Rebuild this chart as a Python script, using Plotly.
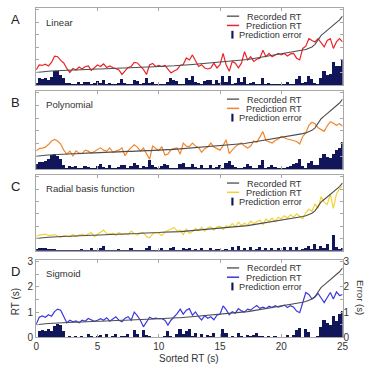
import plotly.graph_objects as go

# Sorted-trial axis (seconds), sampled every 0.25 s
sorted_rt = [i * 0.25 for i in range(101)]

recorded_rt = [0.50, 0.52, 0.53, 0.54, 0.55, 0.56, 0.57, 0.57, 0.58, 0.58, 0.59, 0.59,
               0.60, 0.60, 0.61, 0.61, 0.62, 0.62, 0.63, 0.63, 0.64, 0.64, 0.65, 0.65,
               0.66, 0.66, 0.67, 0.67, 0.68, 0.68, 0.69, 0.69, 0.70, 0.70, 0.71, 0.71,
               0.72, 0.72, 0.73, 0.73, 0.74, 0.75, 0.75, 0.76, 0.76, 0.77, 0.78, 0.78,
               0.79, 0.80, 0.81, 0.82, 0.83, 0.84, 0.84, 0.85, 0.86, 0.87, 0.88, 0.89,
               0.90, 0.91, 0.92, 0.93, 0.94, 0.95, 0.97, 0.98, 1.00, 1.02, 1.04, 1.06,
               1.08, 1.10, 1.12, 1.14, 1.16, 1.18, 1.20, 1.22, 1.24, 1.26, 1.28, 1.29,
               1.31, 1.33, 1.36, 1.39, 1.42, 1.47, 1.52, 1.62, 1.80, 1.98, 2.08, 2.18,
               2.28, 2.38, 2.48, 2.60, 2.75]

pred_linear = [0.60, 0.80, 0.78, 0.83, 0.76, 0.90, 1.15, 1.13, 0.98, 0.88, 0.66, 0.50,
               0.66, 0.60, 0.72, 0.64, 0.74, 0.76, 0.58, 0.70, 0.80, 0.74, 0.84, 0.70,
               0.76, 0.70, 0.66, 0.60, 0.42, 0.58, 0.70, 0.74, 0.90, 0.88, 0.74, 0.62,
               0.42, 0.80, 0.86, 0.74, 0.78, 0.74, 0.78, 0.62, 0.48, 0.56, 0.62, 0.78,
               0.82, 1.08, 1.00, 1.20, 0.94, 0.74, 0.81, 0.68, 0.64, 0.68, 0.87, 0.68,
               0.81, 1.26, 0.81, 0.55, 0.94, 0.87, 0.68, 0.87, 1.33, 1.00, 1.13, 0.94,
               1.03, 1.07, 1.39, 1.13, 1.26, 1.13, 1.20, 1.26, 1.20, 1.26, 1.16, 1.24,
               1.26, 1.07, 1.00, 1.46, 1.55, 1.85, 1.78, 1.72, 1.85, 1.68, 1.52, 1.78,
               1.85, 1.46, 1.72, 1.85, 1.72]
err_linear = [0.10, 0.28, 0.25, 0.29, 0.21, 0.34, 0.58, 0.56, 0.40, 0.30, 0.07, 0.09,
              0.06, 0.02, 0.11, 0.03, 0.12, 0.14, 0.05, 0.07, 0.16, 0.10, 0.19, 0.05,
              0.10, 0.04, 0.01, 0.07, 0.26, 0.10, 0.01, 0.05, 0.20, 0.18, 0.03, 0.09,
              0.30, 0.08, 0.13, 0.01, 0.04, 0.01, 0.03, 0.14, 0.28, 0.21, 0.16, 0.02,
              0.03, 0.28, 0.19, 0.38, 0.11, 0.10, 0.03, 0.17, 0.22, 0.19, 0.01, 0.21,
              0.09, 0.35, 0.11, 0.38, 0.01, 0.08, 0.29, 0.11, 0.33, 0.02, 0.09, 0.12,
              0.05, 0.03, 0.27, 0.01, 0.10, 0.05, 0.02, 0.04, 0.04, 0.01, 0.12, 0.05,
              0.05, 0.26, 0.36, 0.07, 0.13, 0.38, 0.26, 0.10, 0.05, 0.30, 0.56, 0.40,
              0.43, 0.92, 0.76, 0.75, 1.03]

pred_poly = [0.71, 0.80, 0.82, 0.86, 0.96, 1.10, 1.16, 1.10, 0.98, 0.74, 0.58, 0.70,
             0.51, 0.71, 0.62, 0.60, 0.74, 0.70, 0.62, 0.68, 0.76, 0.83, 0.74, 0.70,
             0.83, 0.66, 0.70, 0.74, 0.83, 0.52, 0.72, 0.82, 0.95, 0.86, 0.70, 0.82,
             0.62, 0.38, 0.90, 0.80, 0.72, 0.88, 0.55, 0.58, 0.76, 0.80, 0.83, 0.58,
             1.02, 0.90, 0.88, 1.02, 0.90, 0.84, 0.66, 0.80, 0.86, 1.02, 0.86, 0.80,
             0.74, 0.92, 1.15, 0.60, 0.76, 0.88, 0.96, 1.02, 0.90, 0.82, 0.90, 1.10,
             1.05, 1.25, 1.47, 1.12, 1.06, 1.02, 1.12, 1.18, 1.28, 1.22, 1.18, 1.15,
             1.10, 1.08, 0.98, 1.28, 1.42, 1.72, 1.84, 1.78, 1.62, 1.55, 1.48, 1.70,
             1.86, 1.80, 1.72, 1.78, 1.68]
err_poly = [0.21, 0.28, 0.29, 0.32, 0.41, 0.54, 0.59, 0.53, 0.40, 0.16, 0.01, 0.11,
            0.09, 0.11, 0.01, 0.01, 0.12, 0.08, 0.01, 0.05, 0.12, 0.19, 0.09, 0.05,
            0.17, 0.01, 0.03, 0.07, 0.15, 0.16, 0.03, 0.13, 0.25, 0.16, 0.01, 0.11,
            0.10, 0.34, 0.17, 0.07, 0.02, 0.13, 0.20, 0.18, 0.01, 0.03, 0.05, 0.20,
            0.23, 0.10, 0.07, 0.20, 0.07, 0.01, 0.18, 0.05, 0.01, 0.15, 0.02, 0.09,
            0.16, 0.01, 0.23, 0.33, 0.18, 0.07, 0.01, 0.04, 0.10, 0.20, 0.14, 0.04,
            0.03, 0.15, 0.35, 0.02, 0.10, 0.16, 0.08, 0.04, 0.04, 0.04, 0.10, 0.14,
            0.21, 0.25, 0.38, 0.11, 0.02, 0.25, 0.32, 0.16, 0.18, 0.43, 0.60, 0.48,
            0.42, 0.58, 0.76, 0.82, 1.07]

pred_rbf = [0.58, 0.64, 0.66, 0.68, 0.62, 0.65, 0.66, 0.60, 0.55, 0.62, 0.60, 0.57,
            0.66, 0.58, 0.64, 0.68, 0.62, 0.68, 0.74, 0.58, 0.68, 0.75, 0.84, 0.70,
            0.68, 0.72, 0.62, 0.74, 0.66, 0.70, 0.66, 0.80, 0.70, 0.64, 0.72, 0.74,
            0.58, 0.53, 0.68, 0.74, 0.70, 0.62, 0.76, 0.82, 0.88, 0.95, 0.80, 0.84,
            0.66, 0.88, 0.70, 0.78, 0.90, 0.82, 0.96, 0.80, 0.92, 0.98, 0.84, 0.96,
            1.00, 0.86, 1.02, 0.96, 1.10, 0.98, 1.16, 1.02, 1.12, 1.05, 1.20, 1.10,
            1.18, 1.25, 1.06, 1.28, 1.20, 1.32, 1.18, 1.36, 1.30, 1.42, 1.32, 1.46,
            1.36, 1.50, 1.40, 1.30, 1.55, 1.68, 1.60, 1.90, 1.72, 2.20, 1.95, 1.88,
            2.30, 1.72, 2.30, 2.52, 2.62]
err_rbf = [0.08, 0.12, 0.13, 0.14, 0.07, 0.09, 0.09, 0.03, 0.03, 0.04, 0.01, 0.02,
           0.06, 0.02, 0.03, 0.07, 0.01, 0.06, 0.11, 0.05, 0.04, 0.11, 0.19, 0.05,
           0.02, 0.06, 0.05, 0.07, 0.02, 0.02, 0.03, 0.11, 0.01, 0.06, 0.01, 0.03,
           0.14, 0.19, 0.05, 0.01, 0.04, 0.13, 0.01, 0.06, 0.12, 0.18, 0.02, 0.06,
           0.13, 0.08, 0.11, 0.04, 0.07, 0.02, 0.12, 0.05, 0.06, 0.11, 0.04, 0.07,
           0.10, 0.05, 0.10, 0.03, 0.16, 0.03, 0.19, 0.04, 0.12, 0.03, 0.16, 0.04,
           0.10, 0.15, 0.06, 0.14, 0.04, 0.14, 0.02, 0.14, 0.06, 0.16, 0.04, 0.17,
           0.05, 0.17, 0.04, 0.09, 0.13, 0.21, 0.08, 0.28, 0.08, 0.22, 0.13, 0.30,
           0.02, 0.66, 0.18, 0.08, 0.13]

pred_sigmoid = [0.52, 0.80, 0.85, 0.80, 0.90, 0.84, 1.02, 1.12, 1.08, 0.84, 0.58, 0.68,
                0.62, 0.65, 0.58, 0.68, 0.64, 0.75, 0.70, 0.64, 0.68, 0.74, 0.68, 0.78,
                0.64, 0.74, 0.82, 0.68, 0.62, 0.76, 0.82, 0.68, 1.00, 0.86, 0.68, 0.42,
                0.60, 0.80, 0.74, 0.76, 0.74, 0.74, 0.68, 0.49, 0.68, 0.80, 0.94, 1.12,
                0.92, 1.08, 1.14, 0.88, 1.01, 0.82, 0.69, 0.86, 0.76, 0.82, 0.70, 0.88,
                0.92, 1.25, 1.10, 0.90, 1.02, 0.96, 1.14, 1.05, 1.00, 1.12, 1.08, 1.18,
                1.26, 1.15, 1.20, 1.14, 1.24, 1.18, 1.26, 1.20, 1.24, 1.28, 1.18, 1.26,
                1.20, 1.04, 0.98, 1.38, 1.78, 1.70, 1.52, 1.60, 1.74, 1.56, 1.38, 1.58,
                1.78, 1.52, 1.80, 1.66, 1.70]
err_sigmoid = [0.02, 0.28, 0.32, 0.26, 0.35, 0.28, 0.45, 0.55, 0.50, 0.26, 0.01, 0.09,
               0.02, 0.05, 0.03, 0.07, 0.02, 0.13, 0.07, 0.01, 0.04, 0.10, 0.03, 0.13,
               0.02, 0.08, 0.15, 0.01, 0.06, 0.08, 0.13, 0.01, 0.30, 0.16, 0.03, 0.29,
               0.12, 0.08, 0.01, 0.03, 0.01, 0.01, 0.07, 0.27, 0.08, 0.03, 0.16, 0.34,
               0.13, 0.28, 0.33, 0.06, 0.18, 0.02, 0.15, 0.01, 0.10, 0.05, 0.18, 0.01,
               0.02, 0.34, 0.18, 0.03, 0.08, 0.01, 0.17, 0.07, 0.01, 0.10, 0.04, 0.12,
               0.18, 0.05, 0.08, 0.01, 0.08, 0.01, 0.06, 0.02, 0.01, 0.02, 0.10, 0.03,
               0.11, 0.29, 0.38, 0.01, 0.36, 0.23, 0.01, 0.02, 0.06, 0.42, 0.70, 0.60,
               0.50, 0.86, 0.68, 0.94, 1.05]

panel_letters = ["A", "B", "C", "D"]
panel_names = ["Linear", "Polynomial", "Radial basis function", "Sigmoid"]
pred_series = [pred_linear, pred_poly, pred_rbf, pred_sigmoid]
err_series = [err_linear, err_poly, err_rbf, err_sigmoid]
pred_colors = ["#ec2329", "#f2862a", "#f3d236", "#3a38e0"]
legend_labels = ["Recorded RT", "Prediction RT", "Prediction error"]
x_ticks = [0, 5, 10, 15, 20, 25]
y_ticks = [0, 0.5, 1, 1.5, 2, 2.5, 3]
y_ticktext = ["0", "", "1", "", "2", "", "3"]
err_ticks = [0, 1, 2, 3]

W = H = 372
FONT = "Liberation Sans, Arial, sans-serif"
REC_COLOR = "#4d4d4d"
ERR_COLOR = "#111559"
AX_COLOR = "#a8a8a8"
TXT = "#333333"

# panel pixel boxes (top, bottom)
panel_px = [(5, 84), (90, 170), (176, 254), (263, 342.7)]
x_dom = [34 / W, 348 / W]
YMAX = 3.08

fig = go.Figure()
layout = dict(width=W, height=H, margin=dict(l=0, r=0, t=0, b=0),
              paper_bgcolor="white", plot_bgcolor="white", showlegend=False,
              bargap=0, font=dict(family=FONT, size=10, color=TXT))
annotations = []
shapes = []

def py(v):
    return 1 - v / H

for i in range(4):
    n = i + 1
    xa = "x" if n == 1 else f"x{n}"
    ya = "y" if n == 1 else f"y{n}"
    bar_y = ya
    if n == 4:
        bar_y = "y5"
    fig.add_trace(go.Bar(x=sorted_rt, y=err_series[i], width=0.25,
                         marker=dict(color=ERR_COLOR, line=dict(width=0)),
                         xaxis=xa, yaxis=bar_y))
    fig.add_trace(go.Scatter(x=sorted_rt, y=pred_series[i], mode="lines",
                             line=dict(color=pred_colors[i], width=1.2),
                             xaxis=xa, yaxis=ya))
    fig.add_trace(go.Scatter(x=sorted_rt, y=recorded_rt, mode="lines",
                             line=dict(color=REC_COLOR, width=1.1),
                             xaxis=xa, yaxis=ya))
    top, bot = panel_px[i]
    last = (n == 4)
    layout[f"xaxis{'' if n == 1 else n}"] = dict(
        domain=x_dom, anchor=ya, range=[0, 25], tickvals=x_ticks,
        showticklabels=last, ticks="inside", ticklen=3, tickcolor=AX_COLOR,
        showline=True, linecolor=AX_COLOR, linewidth=1, mirror="ticks",
        showgrid=False, zeroline=False, tickfont=dict(size=10, color=TXT))
    layout[f"yaxis{'' if n == 1 else n}"] = dict(
        domain=[py(bot), py(top)], anchor=xa, range=[0, YMAX],
        tickvals=y_ticks, ticktext=y_ticktext, showticklabels=last,
        ticks="inside", ticklen=3, tickcolor=AX_COLOR,
        showline=True, linecolor=AX_COLOR, linewidth=1, mirror="ticks",
        showgrid=False, zeroline=False, tickfont=dict(size=10, color=TXT))

    # panel letter and model name
    annotations.append(dict(text=panel_letters[i], x=12.5 / W, y=py(top + 12),
                            xref="paper", yref="paper", showarrow=False,
                            xanchor="center", yanchor="middle",
                            font=dict(size=13, color="#222")))
    annotations.append(dict(text=panel_names[i], x=42.5 / W, y=py(top + 14.5),
                            xref="paper", yref="paper", showarrow=False,
                            xanchor="left", yanchor="middle",
                            font=dict(size=9.6, color=TXT)))
    # legend block
    offs = [8.5, 18, 27.5]
    for k, lab in enumerate(legend_labels):
        annotations.append(dict(text=lab, x=307.5 / W, y=py(top + offs[k]),
                                xref="paper", yref="paper", showarrow=False,
                                xanchor="right", yanchor="middle",
                                height=9, borderpad=0,
                                font=dict(size=9.2, color=TXT)))
    shapes.append(dict(type="line", xref="paper", yref="paper",
                       x0=229.5 / W, x1=242 / W, y0=py(top + offs[0]), y1=py(top + offs[0]),
                       line=dict(color=REC_COLOR, width=1.3)))
    shapes.append(dict(type="line", xref="paper", yref="paper",
                       x0=229.5 / W, x1=242 / W, y0=py(top + offs[1]), y1=py(top + offs[1]),
                       line=dict(color=pred_colors[i], width=1.5)))
    shapes.append(dict(type="rect", xref="paper", yref="paper",
                       x0=234 / W, x1=236.2 / W, y0=py(top + offs[2] + 4), y1=py(top + offs[2] - 4),
                       line=dict(width=0), fillcolor=ERR_COLOR))

# right-hand error axis on the bottom panel
layout["yaxis5"] = dict(overlaying="y4", side="right", anchor="x4", range=[0, YMAX],
                        tickvals=err_ticks, showline=False, ticks="", showgrid=False,
                        zeroline=False, tickfont=dict(size=10, color=TXT))

annotations.append(dict(text="Sorted RT (s)", x=191 / W, y=py(364), xref="paper", yref="paper",
                        showarrow=False, xanchor="center", yanchor="middle",
                        font=dict(size=10, color=TXT)))
annotations.append(dict(text="RT (s)", x=13 / W, y=py(306), xref="paper", yref="paper",
                        showarrow=False, xanchor="center", yanchor="middle", textangle=-90,
                        font=dict(size=10, color=TXT)))
annotations.append(dict(text="Error (s)", x=366.5 / W, y=py(302), xref="paper", yref="paper",
                        showarrow=False, xanchor="center", yanchor="middle", textangle=90,
                        borderpad=0, font=dict(size=9.6, color=TXT)))

layout["annotations"] = annotations
layout["shapes"] = shapes
fig.update_layout(**layout)
fig.write_html("out.html")
